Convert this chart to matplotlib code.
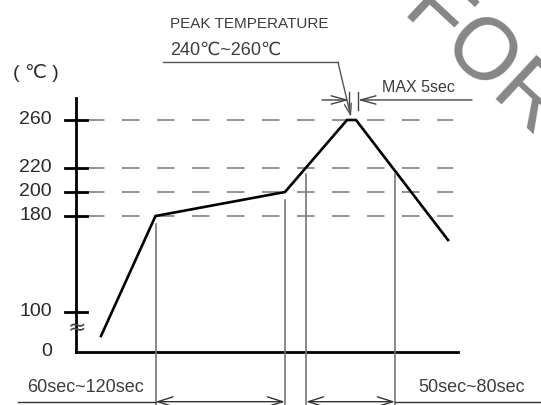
import numpy as np
import matplotlib
matplotlib.use('Agg')
import matplotlib.pyplot as plt

# reflow profile (time in arbitrary seconds-like units, temperature in degC)
profile_time = [25, 79.5, 209, 271, 280, 372]
profile_temp = [80, 180, 200, 260, 260, 160]

tick_temps = [260, 220, 200, 180, 100]
tick_labels = ['260', '220', '200', '180', '100']
guide_temps = [260, 220, 200, 180]

axis_floor = 66.7      # where the broken axis puts "0"
axis_top = 278
axis_end = 382

marker_times = [79.5, 209, 230, 319]
marker_tops = [173, 193, 215, 215]

FONT = ['Liberation Sans', 'DejaVu Sans']
TXT = '#3c3c3c'
GRAY = '#777777'

plt.rcParams['lines.scale_dashes'] = False

fig = plt.figure(figsize=(5.41, 4.05), dpi=100)
ax = fig.add_axes([0, 0, 1, 1])
ax.set_xlim(-76, 465)
ax.set_ylim(22.5, 360)
ax.axis('off')

# watermark
ax.text(324, 346.7, 'FOR', rotation=-43, rotation_mode='anchor', ha='left', va='baseline',
        fontsize=63, color='#868686', family='Liberation Sans', zorder=0)

# dashed guides
for t in guide_temps:
    ax.plot([10.7, 377.3], [t, t], color=GRAY, lw=1.1, dashes=(12.6, 12.6))

# axes
ax.plot([0, 0], [axis_floor, axis_top], color='black', lw=2)
ax.plot([0, axis_end], [axis_floor, axis_floor], color='black', lw=2)
for t, lab in zip(tick_temps, tick_labels):
    ax.plot([-11, 11], [t, t], color='black', lw=2)
    ax.text(-24, t, lab, ha='right', va='center', fontsize=14, color='#2a2a2a', family=FONT)
ax.text(-24, axis_floor, '0', ha='right', va='center', fontsize=14, color='#2a2a2a', family=FONT)
ax.text(1, 86.7, '≈', ha='center', va='center', fontsize=16, color='#444444', family='DejaVu Sans')
ax.text(-40, 299, '( ℃ )', ha='center', va='center', fontsize=14, color='#2a2a2a', family=FONT)

# profile curve
ax.plot(profile_time, profile_temp, color='black', lw=1.9, solid_joinstyle='miter')

# vertical markers
for t, top in zip(marker_times, marker_tops):
    ax.plot([t, t], [top, 22.5], color=GRAY, lw=1.2)

# bottom dimension lines
dim_y = 25.25
arr = dict(arrowstyle='<->,head_length=1.1,head_width=0.35', color='#333333', lw=1.0,
           shrinkA=0, shrinkB=0)
ax.plot([-58, marker_times[0]], [dim_y, dim_y], color='#333333', lw=1.0)
ax.annotate('', xy=(marker_times[1], dim_y), xytext=(marker_times[0], dim_y), arrowprops=arr)
ax.annotate('', xy=(marker_times[3], dim_y), xytext=(marker_times[2], dim_y), arrowprops=arr)
ax.plot([marker_times[3], 465], [dim_y, dim_y], color='#333333', lw=1.0)
ax.text(-48.5, 36.7, '60sec~120sec', ha='left', va='center', fontsize=13, color=TXT, family=FONT)
ax.text(342, 36.7, '50sec~80sec', ha='left', va='center', fontsize=13, color=TXT, family=FONT)

# peak temperature leader
ax.text(94, 340, 'PEAK TEMPERATURE', ha='left', va='center', fontsize=11, color=TXT, family=FONT)
ax.text(94, 318.3, '240℃~260℃', ha='left', va='center', fontsize=13, color=TXT, family=FONT)
ax.plot([87, 262], [308.1, 308.1], color='#555555', lw=1.0)
ax.annotate('', xy=(275, 262.5), xytext=(262, 308.1),
            arrowprops=dict(arrowstyle='->,head_length=0.8,head_width=0.25', color='#555555',
                            lw=1.0, shrinkA=0, shrinkB=0))

# MAX 5sec dimension
max_y = 276.7
sm = dict(arrowstyle='->,head_length=1.1,head_width=0.3', color='#444444', lw=1.0,
          shrinkA=0, shrinkB=0)
ax.annotate('', xy=(273, max_y), xytext=(246, max_y), arrowprops=sm)
ax.annotate('', xy=(282, max_y), xytext=(396, max_y), arrowprops=sm)
for t in (273, 282):
    ax.plot([t, t], [268.3, 283.3], color='#444444', lw=1.0)
ax.text(306, 287.5, 'MAX 5sec', ha='left', va='center', fontsize=11.5, color=TXT, family=FONT)

fig.savefig('out.png', dpi=100)
